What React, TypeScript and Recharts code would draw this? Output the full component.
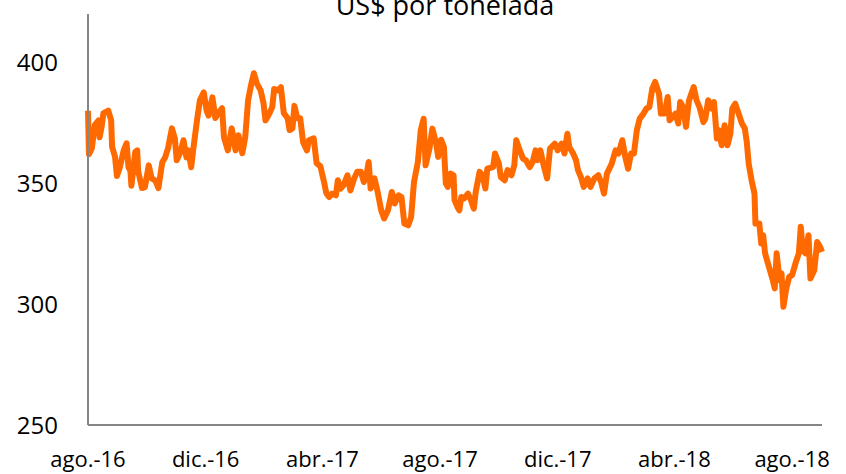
import { LineChart, Line, XAxis, YAxis } from 'recharts'

// days since 1 Aug 2016
const dayOffsets = [
  0, 1, 4, 7, 11, 12, 14, 16, 21, 24, 25, 28, 30, 33, 37, 40, 42, 44, 45, 49,
  51, 52, 56, 59, 63, 66, 70, 73, 77, 80, 83, 87, 90, 92, 96, 99, 102, 104, 107, 109,
  113, 116, 120, 123, 125, 129, 132, 135, 139, 141, 145, 149, 153, 156, 160, 163, 166, 169, 172, 175,
  179, 182, 184, 187, 191, 193, 197, 200, 203, 207, 209, 212, 214, 217, 220, 223, 227, 229, 234, 237,
  241, 245, 247, 250, 253, 257, 259, 262, 265, 269, 272, 276, 279, 283, 286, 289, 291, 293, 297, 300,
  304, 307, 311, 315, 318, 322, 325, 328, 332, 335, 338, 342, 345, 348, 350, 354, 357, 361, 363, 366,
  369, 371, 373, 376, 379, 380, 383, 385, 387, 390, 394, 397, 400, 402, 406, 409, 412, 414, 420, 422,
  426, 428, 432, 435, 439, 442, 444, 447, 451, 454, 458, 461, 464, 466, 469, 472, 476, 479, 484, 487,
  491, 494, 497, 499, 503, 506, 508, 511, 514, 518, 521, 525, 529, 532, 535, 538, 543, 547, 550, 554,
  557, 560, 563, 566, 569, 572, 576, 579, 582, 585, 588, 592, 594, 598, 601, 603, 609, 612, 614, 617,
  620, 623, 625, 628, 631, 634, 638, 640, 643, 646, 649, 652, 654, 657, 660, 663, 666, 668, 671, 674,
  678, 681, 683, 685, 688, 691, 692, 696, 698, 700, 702, 706, 710, 712, 714, 717, 719, 721, 724, 727,
  730, 734, 737, 739, 741, 744, 747, 749, 753, 756, 759, 761,
]

const prices = [
  380, 362, 364.5, 374, 376, 369, 373, 379, 380, 376, 365, 361, 353, 356.6, 363.6, 366.5, 356.6, 355, 349, 363,
  363.6, 355, 348, 348.4, 357.4, 352, 351, 348, 358.7, 360.7, 364.5, 372.7, 368.6, 359.5, 363, 367.8, 360.7, 363.6, 356.6, 363.6,
  376, 384.3, 387.6, 380, 378, 385.5, 377, 379, 381, 369, 363.6, 372.7, 363.6, 369.8, 362.4, 369, 384.3, 390.5, 395.5, 391.3,
  388.4, 383, 376, 378, 381.4, 389, 388.4, 389.7, 379, 376.9, 372, 372.7, 382, 376.9, 376.9, 367, 363.6, 367.8, 368.6, 358.3,
  357, 350, 346, 344.3, 345.7, 345, 351.2, 347.8, 349.2, 353.3, 347, 352, 354.7, 354.7, 350.5, 354, 358.8, 347.8, 352, 347,
  338.8, 335.4, 338.8, 346.4, 341.6, 345, 344.3, 333.3, 332.6, 336, 350.5, 358.8, 371.9, 376.7, 357.4, 364.3, 372.6, 366.4, 360.9, 368,
  365, 349.9, 348.5, 354, 353.3, 343, 340.2, 338.8, 344.3, 343.7, 345.7, 343, 339.5, 346.4, 354.7, 353.3, 347.8, 356, 356.7, 362.3,
  358.1, 352.6, 351.2, 355.4, 353.3, 357.4, 367.8, 364.3, 360.2, 359.5, 356.7, 358.8, 363.6, 359.5, 363.6, 358.1, 352, 364.3, 366.4, 363.6,
  366.4, 362.3, 370.5, 365, 362.3, 359.5, 355.4, 352.6, 348.5, 352, 348.5, 352, 353.3, 350.5, 345.7, 354, 358.1, 363.6, 362.3, 367.8,
  360.9, 356, 362.3, 362.3, 371.9, 376.7, 378.8, 380.9, 381.5, 389.1, 391.9, 387, 378.8, 378.8, 385.7, 376, 378.8, 374.7, 383.6, 381.5,
  373.3, 384, 386.4, 389.8, 384.3, 381.5, 375.3, 376.7, 384.3, 380.9, 383.6, 368.5, 371.9, 365.7, 374, 365.7, 370.5, 380.9, 382.9, 379.5,
  374.7, 372.6, 367.1, 358.1, 351.2, 345.7, 333.3, 333.3, 325.1, 328.5, 321, 315.4, 309.9, 306.5, 321, 309.9, 312.7, 298.9, 306.5, 311.3,
  312, 317.5, 321, 332, 322.3, 321, 328.5, 310.6, 314, 325.7, 323.7, 321.6,
]

const xTicks = [0, 122, 243, 365, 487, 608, 730]
const xTickLabels = ['ago.-16', 'dic.-16', 'abr.-17', 'ago.-17', 'dic.-17', 'abr.-18', 'ago.-18']
const yTicks = [250, 300, 350, 400]

const data = dayOffsets.map((day, i) => ({ day, price: prices[i] }))

const font = '"Open Sans", sans-serif'

export default function App() {
  return (
    <div style={{ position: 'absolute', left: 0, top: 0, width: 846, height: 474, overflow: 'hidden', background: '#fff' }}>
      <div
        style={{
          position: 'absolute',
          left: 0,
          width: 890,
          top: -14,
          textAlign: 'center',
          fontFamily: font,
          fontSize: 27,
          color: '#000',
        }}
      >
        US$ por tonelada
      </div>
      <LineChart width={846} height={474} data={data} margin={{ top: 14, right: 24, bottom: 0, left: 0 }}>
        <XAxis
          type="number"
          dataKey="day"
          domain={[0, 761]}
          ticks={xTicks}
          tickFormatter={(v: number) => xTickLabels[xTicks.indexOf(v)] ?? ''}
          interval={0}
          height={49}
          tickLine={false}
          tickSize={0}
          tickMargin={26}
          axisLine={{ stroke: '#868686', strokeWidth: 2 }}
          tick={{ fill: '#000', fontSize: 22, fontFamily: font }}
        />
        <YAxis
          domain={[250, 420]}
          ticks={yTicks}
          interval={0}
          width={88}
          tickLine={false}
          tickSize={0}
          tickMargin={30}
          axisLine={{ stroke: '#868686', strokeWidth: 2 }}
          tick={{ fill: '#000', fontSize: 24, fontFamily: font }}
        />
        <Line
          type="linear"
          dataKey="price"
          stroke="#ff6a00"
          strokeWidth={6}
          dot={false}
          isAnimationActive={false}
          strokeLinejoin="round"
        />
      </LineChart>
    </div>
  )
}
